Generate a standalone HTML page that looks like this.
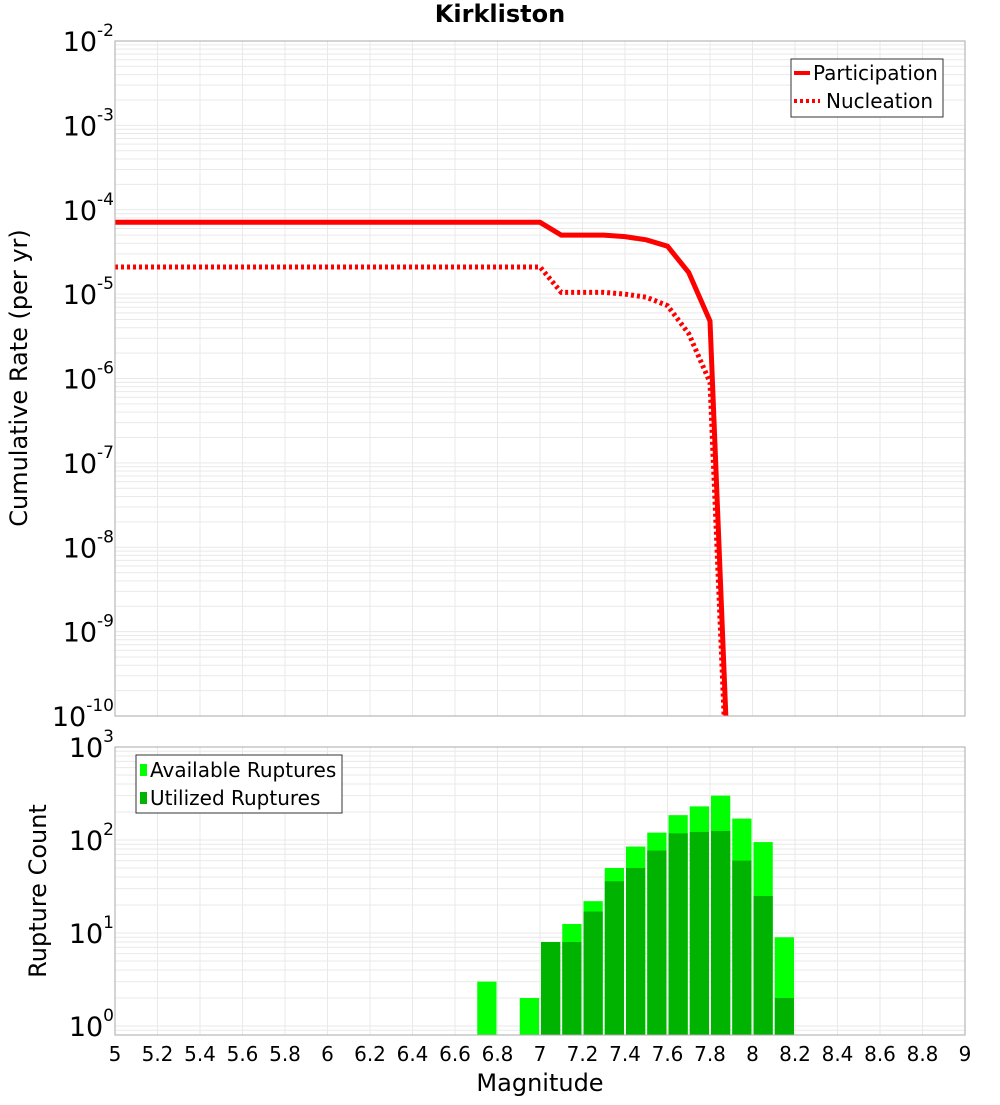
<!DOCTYPE html>
<html><head><meta charset="utf-8"><style>
body{margin:0;background:#fff;}
svg text{font-family:"DejaVu Sans","Liberation Sans",sans-serif;}
</style></head><body>
<svg id="chart" width="1000" height="1100" xmlns="http://www.w3.org/2000/svg"></svg>
<script>
const xTicks=[5,5.2,5.4,5.6,5.8,6,6.2,6.4,6.6,6.8,7,7.2,7.4,7.6,7.8,8,8.2,8.4,8.6,8.8,9];
const xTickLabels=["5","5.2","5.4","5.6","5.8","6","6.2","6.4","6.6","6.8","7","7.2","7.4","7.6","7.8","8","8.2","8.4","8.6","8.8","9"];
const topDecades=[-2,-3,-4,-5,-6,-7,-8,-9,-10];
const botDecades=[3,2,1,0];
const lineMags=[5,5.1,5.2,5.3,5.4,5.5,5.6,5.7,5.8,5.9,6,6.1,6.2,6.3,6.4,6.5,6.6,6.7,6.8,6.9,7,7.1,7.2,7.3,7.4,7.5,7.6,7.7,7.8,7.9];
const participation=[7.1e-5,7.1e-5,7.1e-5,7.1e-5,7.1e-5,7.1e-5,7.1e-5,7.1e-5,7.1e-5,7.1e-5,7.1e-5,7.1e-5,7.1e-5,7.1e-5,7.1e-5,7.1e-5,7.1e-5,7.1e-5,7.1e-5,7.1e-5,7.1e-5,5.0e-5,5.0e-5,5.0e-5,4.8e-5,4.4e-5,3.7e-5,1.8e-5,4.8e-6,2.5e-12];
const nucleation=[2.1e-5,2.1e-5,2.1e-5,2.1e-5,2.1e-5,2.1e-5,2.1e-5,2.1e-5,2.1e-5,2.1e-5,2.1e-5,2.1e-5,2.1e-5,2.1e-5,2.1e-5,2.1e-5,2.1e-5,2.1e-5,2.1e-5,2.1e-5,2.1e-5,1.05e-5,1.05e-5,1.05e-5,1.0e-5,9.2e-6,7.3e-6,3.4e-6,9.0e-7,1e-12];
const barMags=[6.75,6.95,7.05,7.15,7.25,7.35,7.45,7.55,7.65,7.75,7.85,7.95,8.05,8.15];
const available=[3,2,8,12.5,22,50,85,120,185,230,300,170,95,9];
const utilized=[0,0,8,8,17,36,50,77,118,122,125,60,25,2];

const NS="http://www.w3.org/2000/svg";
const svg=document.getElementById('chart');
const L=115,R=965,T1=41,B1=716,T2=747,B2=1035;
const xs=m=>L+(m-5)/4*(R-L);
const y1=v=>T1+(-2-Math.log10(v))*(B1-T1)/8;
const yb=v=>T2+(3-Math.log10(v))*93;
function el(tag,attrs,parent){const e=document.createElementNS(NS,tag);for(const k in attrs)e.setAttribute(k,attrs[k]);(parent||svg).appendChild(e);return e;}

const defs=el('defs',{});
const c1=el('clipPath',{id:'c1'},defs);el('rect',{x:L,y:T1,width:R-L,height:B1-T1},c1);
const c2=el('clipPath',{id:'c2'},defs);el('rect',{x:L,y:T2,width:R-L,height:B2-T2},c2);

const title=el('text',{x:500,y:22,'text-anchor':'middle','font-size':24,'font-weight':'bold'});
title.textContent='Kirkliston';



function grid(top,bot,yf,decMin,decMax,clip){
  const g=el('g',{'clip-path':'url(#'+clip+')',stroke:'#e9e9e9','stroke-width':1});
  
  
  for(const t of xTicks){el('line',{x1:xs(t),x2:xs(t),y1:top,y2:bot},g);}
  for(let d=decMin;d<=decMax;d++){for(let k=1;k<10;k++){const y=yf(k*Math.pow(10,d));if(y>=top&&y<=bot)el('line',{x1:L,x2:R,y1:y,y2:y},g);}}
}
grid(T1,B1,y1,-11,-3,'c1');
grid(T2,B2,yb,-1,2,'c2');

function line(vals,dash,name){
  const p=el('polyline',{points:lineMags.map((m,i)=>xs(m)+','+y1(vals[i])).join(' '),fill:'none',stroke:'#ff0000','stroke-width':5,'clip-path':'url(#c1)','stroke-linejoin':'miter'});
  if(dash)p.setAttribute('stroke-dasharray',dash);
  
  
}
line(participation,null,'participation-line');
line(nucleation,'3,3','nucleation-line');

const bw=(xs(5.1)-xs(5))-2;
const bg=el('g',{'clip-path':'url(#c2)'});
barMags.forEach((m,i)=>{
  const x=xs(m)-bw/2;
  if(available[i]>0){const r=el('rect',{x:x,y:yb(available[i]),width:bw,height:B2-yb(available[i]),fill:'#00ff00'},bg);
  
  }
  if(utilized[i]>0){const r=el('rect',{x:x,y:yb(utilized[i]),width:bw,height:B2-yb(utilized[i]),fill:'#00b300'},bg);
  
  }
});

el('rect',{x:L,y:T1,width:R-L,height:B1-T1,fill:'none',stroke:'#aaa','stroke-width':1});
el('rect',{x:L,y:T2,width:R-L,height:B2-T2,fill:'none',stroke:'#aaa','stroke-width':1});

function ylab(d,y,name){
  const t=el('text',{x:114,y:y+10,'text-anchor':'end','font-size':27});
  
  
  const a=el('tspan',{},t);a.textContent='10';
  const b=el('tspan',{dy:-15,'font-size':17},t);b.textContent=String(d);
}
topDecades.forEach(d=>ylab(d,y1(Math.pow(10,d)),'y-tick-label'));
botDecades.forEach(d=>ylab(d,yb(Math.pow(10,d)),'count-tick-label'));

xTicks.forEach((t,i)=>{const e=el('text',{x:xs(t),y:1061,'text-anchor':'middle','font-size':20});e.textContent=xTickLabels[i];

});

const xt=el('text',{x:540,y:1091,'text-anchor':'middle','font-size':24});xt.textContent='Magnitude';


const yt=el('text',{x:0,y:0,'text-anchor':'middle','font-size':24,transform:'translate(27,378) rotate(-90)'});yt.textContent='Cumulative Rate (per yr)';


const yt2=el('text',{x:0,y:0,'text-anchor':'middle','font-size':24,transform:'translate(46,891) rotate(-90)'});yt2.textContent='Rupture Count';



const lg1=el('g',{});


el('rect',{x:791,y:59,width:152,height:58,fill:'#fff',stroke:'#333','stroke-width':1},lg1);
el('line',{x1:794,x2:810,y1:73,y2:73,stroke:'#f00','stroke-width':4},lg1);
el('line',{x1:794,x2:820,y1:101,y2:101,stroke:'#f00','stroke-width':4,'stroke-dasharray':'3,3'},lg1);
let t=el('text',{x:813,y:80,'font-size':20},lg1);t.textContent='Participation';
t=el('text',{x:826,y:108,'font-size':20},lg1);t.textContent='Nucleation';

const lg2=el('g',{});


el('rect',{x:136,y:755,width:206,height:58,fill:'#fff',stroke:'#333','stroke-width':1},lg2);
el('rect',{x:140,y:764,width:7,height:12,fill:'#00ff00'},lg2);
el('rect',{x:140,y:792,width:7,height:12,fill:'#00b300'},lg2);
t=el('text',{x:150,y:777,'font-size':20},lg2);t.textContent='Available Ruptures';
t=el('text',{x:150,y:805,'font-size':20},lg2);t.textContent='Utilized Ruptures';
</script>
</body></html>
